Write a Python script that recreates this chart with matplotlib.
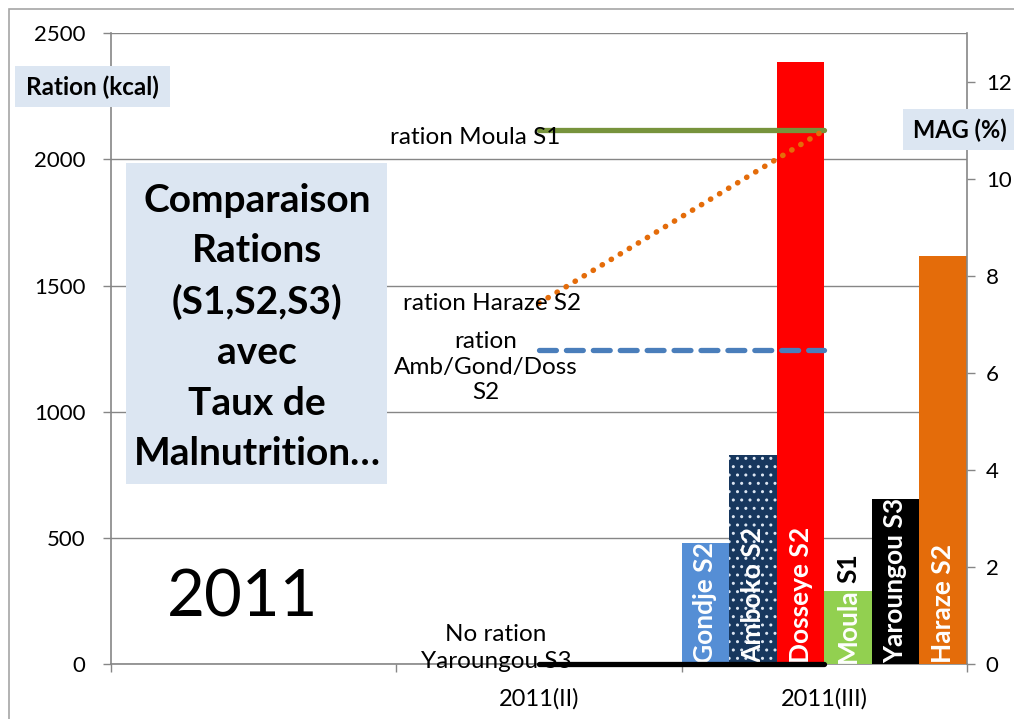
import matplotlib
matplotlib.use("Agg")
import matplotlib.pyplot as plt
from matplotlib.patches import Rectangle

plt.rcParams['font.family'] = ['Lato', 'DejaVu Sans']
plt.rcParams['hatch.linewidth'] = 1.0

# ---- data ----
categories = ["", "2011(II)", "2011(III)"]
kcal_ticks = [0, 500, 1000, 1500, 2000, 2500]
mag_ticks = [0, 2, 4, 6, 8, 10, 12]

bar_labels = ["Gondje S2", "Amboko S2", "Dosseye S2", "Moula S1", "Yaroungou S3", "Haraze S2"]
bar_mag = [2.5, 4.3, 12.4, 1.5, 3.4, 8.4]
bar_colors = ["#558ed5", "#17375e", "#ff0000", "#92d050", "#000000", "#e46c0a"]

ration_moula_s1 = [2115, 2115]
ration_haraze_s2 = [1430, 2115]
ration_amb_gond_doss_s2 = [1245, 1245]
ration_yaroungou_s3 = [0, 0]
line_x = [1.5, 2.5]

W, H = 1014, 719
fig = plt.figure(figsize=(W / 100, H / 100), dpi=100)

def fx(px):
    return px / W

def fy(py):
    return 1 - py / H

L, R, T, B = 111, 967, 33, 664.3
pos = [fx(L), fy(B), fx(R) - fx(L), fy(T) - fy(B)]

grey = "#868686"

ax = fig.add_axes(pos)
ax.set_xlim(0, 3)
ax.set_ylim(0, 2500)
ax.set_yticks(kcal_ticks)
ax.set_yticklabels([str(v) for v in kcal_ticks], fontsize=16)
ax.set_xticks([0.5, 1.5, 2.5])
ax.set_xticklabels(categories, fontsize=17)
ax.set_xticks([0, 1, 2, 3], minor=True)
ax.tick_params(axis='x', which='major', length=0, pad=17)
ax.tick_params(axis='x', which='minor', length=5.5, color=grey, width=1)
ax.tick_params(axis='y', length=5.5, color=grey, width=1, pad=13)
ax.grid(axis='y', color=grey, linewidth=1)
ax.set_axisbelow(True)
for s in ['top', 'right']:
    ax.spines[s].set_visible(False)
for s in ['left', 'bottom']:
    ax.spines[s].set_color(grey)
    ax.spines[s].set_linewidth(1.2)

ax2 = ax.twinx()
ax2.set_ylim(0, 13)
ax2.set_yticks(mag_ticks)
ax2.set_yticklabels([str(v) for v in mag_ticks], fontsize=16)
ax2.tick_params(axis='y', length=5.5, color=grey, width=1, pad=8)
for s in ['top', 'left', 'bottom']:
    ax2.spines[s].set_visible(False)
ax2.spines['right'].set_color(grey)
ax2.spines['right'].set_linewidth(1.2)

n = len(bar_labels)
w = 1.0 / n
xs = [2 + w * (i + 0.5) for i in range(n)]
for x, h, c, lab in zip(xs, bar_mag, bar_colors, bar_labels):
    if lab.startswith("Amboko"):
        ax2.bar(x, h, width=w, color=c, edgecolor="#dce6f2", linewidth=0, hatch='..', zorder=2)
    else:
        ax2.bar(x, h, width=w, color=c, linewidth=0, zorder=2)

fs_bar = 19
renderer = fig.canvas.get_renderer()
for x, lab in zip(xs, bar_labels):
    if lab.startswith("Moula"):
        first, second = lab.split()
        t1 = ax2.text(x, 0.02, first, rotation=90, rotation_mode='anchor', ha='left', va='center',
                      color='white', fontsize=fs_bar, fontweight='bold', zorder=6)
        bb = t1.get_window_extent(renderer)
        top_px = bb.y1 + 6
        _, top_data = ax2.transData.inverted().transform((0, top_px))
        ax2.text(x, top_data, second, rotation=90, rotation_mode='anchor', ha='left', va='center',
                 color='black', fontsize=fs_bar, fontweight='bold', zorder=6)
    else:
        ax2.text(x, 0.02, lab, rotation=90, rotation_mode='anchor', ha='left', va='center',
                 color='white', fontsize=fs_bar, fontweight='bold', zorder=5)

ax3 = fig.add_axes(pos)
ax3.set_xlim(0, 3)
ax3.set_ylim(0, 2500)
ax3.axis('off')
ax3.patch.set_visible(False)
ax3.plot(line_x, ration_moula_s1, color="#77933c", linewidth=3.8, solid_capstyle='round', zorder=3)
ax3.plot(line_x, ration_haraze_s2, color="#e46c0a", linewidth=4.0, linestyle=(0, (0.05, 1.85)),
         dash_capstyle='round', zorder=4)
ax3.plot(line_x, ration_amb_gond_doss_s2, color="#4a7ebb", linewidth=3.8, linestyle=(0, (3.2, 1.9)),
         dash_capstyle='round', zorder=3)
ax3.plot(line_x, ration_yaroungou_s3, color="black", linewidth=3.8, solid_capstyle='round',
         zorder=4, clip_on=False)

# ---- texts ----
fs_lab = 17.5
fig.text(fx(475), fy(138), "ration Moula S1", ha='center', va='center', fontsize=fs_lab)
fig.text(fx(492), fy(304), "ration Haraze S2", ha='center', va='center', fontsize=fs_lab)
fig.text(fx(486), fy(367), "ration\nAmb/Gond/Doss\nS2", ha='center', va='center', fontsize=fs_lab,
         linespacing=1.25)
fig.text(fx(496), fy(648), "No ration\nYaroungou S3", ha='center', va='center', fontsize=fs_lab,
         linespacing=1.35)

box_c = "#dce6f2"
fig.patches.append(Rectangle((fx(15), fy(107)), fx(170) - fx(15), fy(66) - fy(107),
                             transform=fig.transFigure, facecolor=box_c, edgecolor='none', zorder=1))
fig.text(fx(92), fy(87), "Ration (kcal)", ha='center', va='center', fontsize=17.5, fontweight='bold', zorder=2)

fig.patches.append(Rectangle((fx(903), fy(150)), fx(1014) - fx(903), fy(109) - fy(150),
                             transform=fig.transFigure, facecolor=box_c, edgecolor='none', zorder=1))
fig.text(fx(960), fy(130), "MAG (%)", ha='center', va='center', fontsize=17, fontweight='bold', zorder=2)

fig.patches.append(Rectangle((fx(126), fy(484)), fx(387) - fx(126), fy(163) - fy(484),
                             transform=fig.transFigure, facecolor=box_c, edgecolor='none', zorder=1))
fig.text(fx(257), fy(327), "Comparaison\nRations\n(S1,S2,S3)\navec\nTaux de\nMalnutrition…",
         ha='center', va='center', fontsize=28, fontweight='bold', linespacing=1.52, zorder=2)

fig.text(fx(243), fy(598), "2011", ha='center', va='center', fontsize=47)

# outer chart border
fig.patches.append(Rectangle((fx(9), fy(730)), fx(1030) - fx(9), fy(9) - fy(730),
                             transform=fig.transFigure, facecolor='none', edgecolor='#a6a6a6',
                             linewidth=1.2, zorder=0))

fig.savefig("out.png", dpi=100)
